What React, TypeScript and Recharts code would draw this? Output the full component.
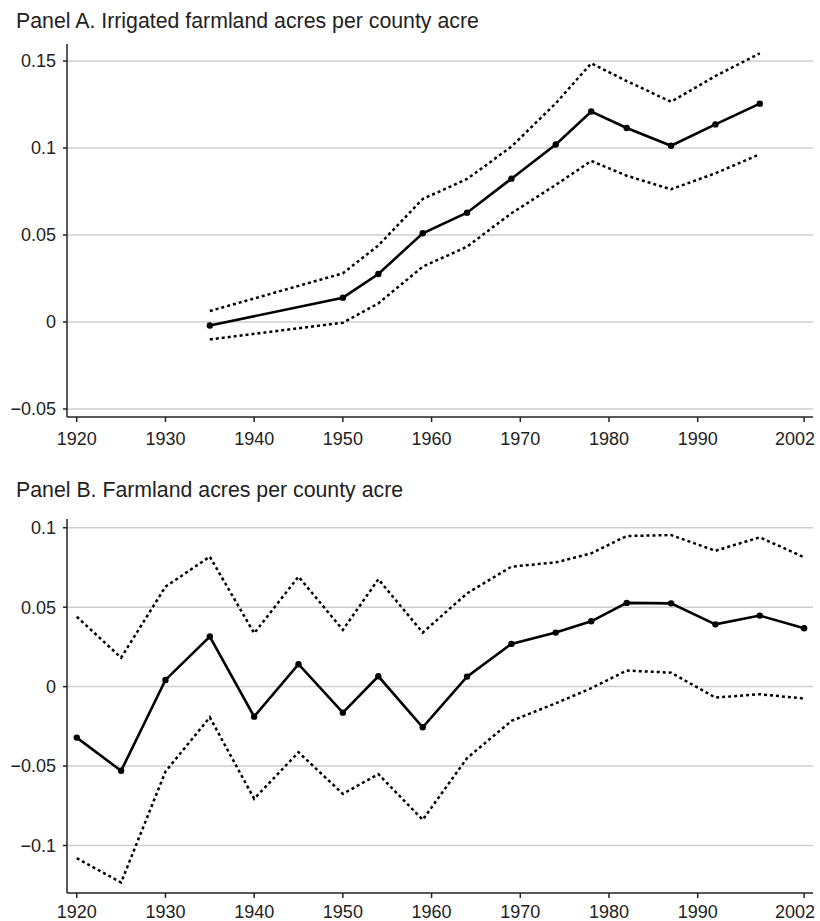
import React from 'react'
import { LineChart, Line, XAxis, YAxis, CartesianGrid } from 'recharts'

// census years
const yearsA = [1935, 1950, 1954, 1959, 1964, 1969, 1974, 1978, 1982, 1987, 1992, 1997]
const estA = [-0.002, 0.014, 0.0276, 0.051, 0.0628, 0.0824, 0.102, 0.121, 0.1115, 0.1013, 0.1136, 0.1255]
const hiA = [0.0063, 0.028, 0.044, 0.0707, 0.0822, 0.1008, 0.1257, 0.1487, 0.1385, 0.1266, 0.1414, 0.1544]
const loA = [-0.01, -0.0004, 0.0107, 0.0318, 0.0433, 0.0625, 0.0788, 0.0926, 0.0841, 0.0763, 0.0855, 0.0964]

const yearsB = [1920, 1925, 1930, 1935, 1940, 1945, 1950, 1954, 1959, 1964, 1969, 1974, 1978, 1982, 1987, 1992, 1997, 2002]
const estB = [-0.0321, -0.053, 0.0042, 0.0315, -0.0189, 0.0141, -0.0164, 0.0065, -0.0256, 0.0063, 0.0269, 0.034, 0.0411, 0.0527, 0.0524, 0.0392, 0.0447, 0.0367]
const hiB = [0.044, 0.0182, 0.0629, 0.0818, 0.0336, 0.0692, 0.0357, 0.0676, 0.034, 0.0587, 0.0755, 0.0782, 0.0839, 0.0948, 0.0954, 0.0855, 0.094, 0.0814]
const loB = [-0.108, -0.1233, -0.0535, -0.0193, -0.0706, -0.0413, -0.0675, -0.0551, -0.0838, -0.045, -0.0216, -0.0105, -0.001, 0.0101, 0.0088, -0.0069, -0.0048, -0.0075]

const xTicks = [1920, 1930, 1940, 1950, 1960, 1970, 1980, 1990, 2002]
const yTicksA = [-0.05, 0, 0.05, 0.1, 0.15]
const yTicksB = [-0.1, -0.05, 0, 0.05, 0.1]

const FONT = '"Liberation Sans", Arial, Helvetica, sans-serif'
const INK = '#222'
const TICK_FS = 18

const fmtY = (v: number) => (v < 0 ? '\u2212' + String(Math.abs(v)) : String(v))

function build(years: number[], est: number[], hi: number[], lo: number[]) {
  return years.map((y, i) => ({ year: y, est: est[i], hi: hi[i], lo: lo[i] }))
}

// last label sits inside the frame, like the original
function XTick(props: any) {
  const { x, y, payload, gap } = props
  const last = payload.value === 2002
  return (
    <text
      x={last ? x + 11 : x}
      y={y + gap}
      textAnchor={last ? 'end' : 'middle'}
      dominantBaseline="hanging"
      fontSize={TICK_FS}
      fontFamily={FONT}
      fill={INK}
    >
      {payload.value}
    </text>
  )
}

function Panel({
  data,
  yDomain,
  yTicks,
  height,
  top,
  xHeight,
  gap,
}: {
  data: any[]
  yDomain: [number, number]
  yTicks: number[]
  height: number
  top: number
  xHeight: number
  gap: number
}) {
  return (
    <LineChart width={820} height={height} data={data} margin={{ top, right: 7, left: 0, bottom: 0 }} style={{ overflow: 'visible' }}>
      <CartesianGrid vertical={false} horizontal stroke="#cfcfcf" strokeWidth={1.5} horizontalValues={yTicks} />
      <XAxis
        dataKey="year"
        type="number"
        domain={[1918.9, 2003]}
        ticks={xTicks}
        allowDataOverflow
        tickSize={5}
        height={xHeight}
        stroke={INK}
        strokeWidth={1.5}
        tick={<XTick gap={gap} />}
        interval={0}
      />
      <YAxis
        type="number"
        domain={yDomain}
        ticks={yTicks}
        allowDataOverflow
        width={67}
        tickSize={4}
        tickMargin={7}
        tickFormatter={fmtY}
        stroke={INK}
        strokeWidth={1.5}
        tick={{ fontSize: TICK_FS, fill: INK, fontFamily: FONT }}
        interval={0}
      />
      <Line dataKey="hi" stroke="#000" strokeWidth={2.5} strokeDasharray="3 3" dot={false} isAnimationActive={false} type="linear" />
      <Line dataKey="lo" stroke="#000" strokeWidth={2.5} strokeDasharray="3 3" dot={false} isAnimationActive={false} type="linear" />
      <Line
        dataKey="est"
        stroke="#000"
        strokeWidth={2.6}
        dot={{ r: 3.2, fill: '#000', stroke: '#000', strokeWidth: 0 }}
        isAnimationActive={false}
        type="linear"
      />
    </LineChart>
  )
}

export default function App() {
  const titleStyle: React.CSSProperties = {
    position: 'absolute',
    left: 16,
    fontFamily: FONT,
    fontSize: 21.3,
    color: INK,
    whiteSpace: 'nowrap',
    lineHeight: '24px',
  }
  return (
    <div style={{ position: 'absolute', left: 0, top: 0, width: 820, height: 921, background: '#fff', overflow: 'hidden' }}>
      <div style={{ ...titleStyle, top: 9 }}>Panel A. Irrigated farmland acres per county acre</div>
      <div style={{ position: 'absolute', left: 0, top: 0 }}>
        <Panel data={build(yearsA, estA, hiA, loA)} yDomain={[-0.0546, 0.1598]} yTicks={yTicksA} height={460} top={44} xHeight={43} gap={8} />
      </div>
      <div style={{ ...titleStyle, top: 478 }}>Panel B. Farmland acres per county acre</div>
      <div style={{ position: 'absolute', left: 0, top: 460 }}>
        <Panel data={build(yearsB, estB, hiB, loB)} yDomain={[-0.1299, 0.1055]} yTicks={yTicksB} height={461} top={59} xHeight={28} gap={5} />
      </div>
    </div>
  )
}
